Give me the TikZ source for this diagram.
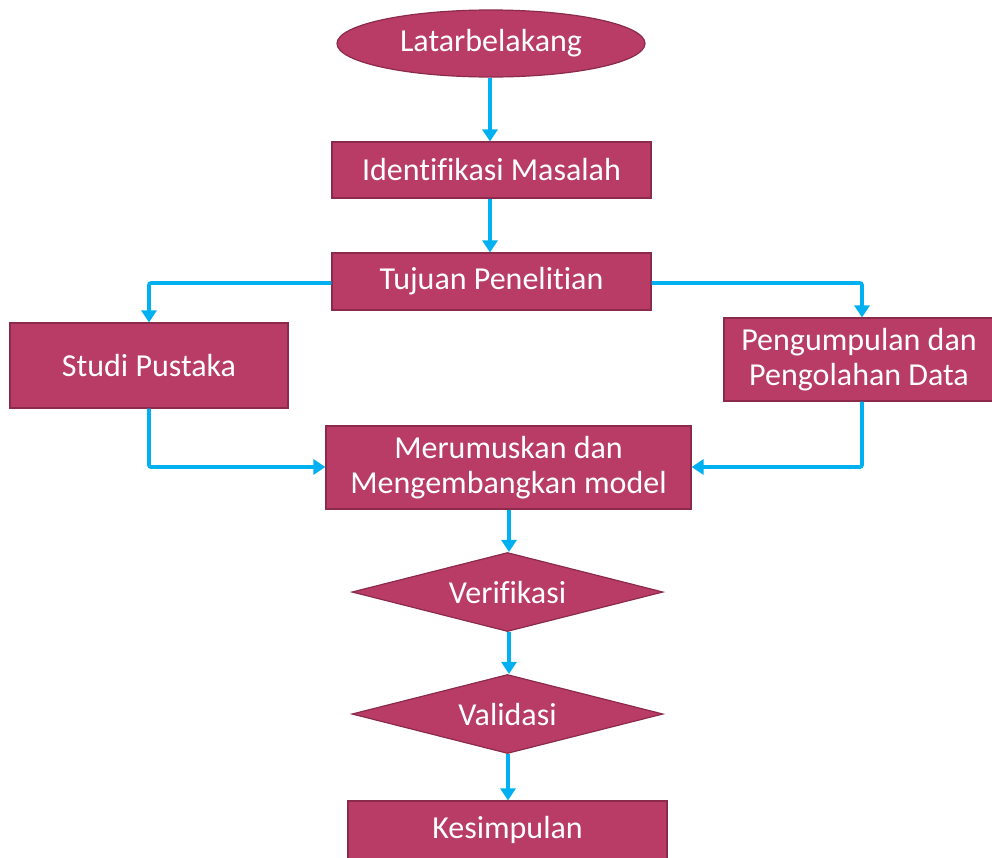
\documentclass[tikz,border=0pt]{standalone}
\usepackage{fontspec}
\setmainfont{Carlito}[Ligatures=NoCommon]
\usetikzlibrary{shapes.geometric,arrows.meta}
\definecolor{boxfill}{HTML}{B83C66}
\definecolor{boxline}{HTML}{8C2A4C}
\definecolor{flow}{HTML}{00B0F0}
\begin{document}
\begin{tikzpicture}[x=1pt,y=-1pt,
  base/.style={fill=boxfill,draw=boxline,line width=1.2pt,text=white,
    font=\fontsize{32}{35}\selectfont,inner sep=0pt,align=center},
  stepbox/.style={base,rectangle,minimum width=#1,minimum height=56pt},
  oval/.style={base,ellipse,minimum width=308pt,minimum height=67pt},
  decision/.style={base,diamond,aspect=3.9,minimum width=311pt,minimum height=79pt},
  link/.style={draw=flow,line width=3.6pt,-{Triangle[length=12pt,width=15pt]}}]
\useasboundingbox (0,0) rectangle (992,857);
\node[oval] (lat) at (491,43.5) {Latarbelakang};
\node[stepbox=319pt] (idm) at (491.5,170) {Identifikasi Masalah};
\node[stepbox=319pt,minimum height=57pt] (tuj) at (491.5,281.5) {Tujuan Penelitian};
\node[stepbox=278pt,minimum height=85pt] (stu) at (149,365.5) {Studi Pustaka};
\node[stepbox=270pt,minimum height=83pt] (pen) at (859,359.5) {Pengumpulan dan\\Pengolahan Data};
\node[stepbox=365pt,minimum height=83pt] (mer) at (508.5,467.5) {Merumuskan dan\\Mengembangkan model};
\node[decision] (ver) at (507.5,592) {Verifikasi};
\node[decision] (val) at (507.5,714) {Validasi};
\node[stepbox=319pt,minimum height=58pt] (kes) at (507.5,830) {Kesimpulan};
\draw[link] (lat.south -| 490,0) -- (idm.north -| 490,0);
\draw[link] (idm.south -| 490,0) -- (tuj.north -| 490,0);
\draw[link,rounded corners=2pt] (tuj.west |- 0,283) -| (stu.north);
\draw[link,rounded corners=2pt] (tuj.east |- 0,283) -| (pen.north -| 862,0);
\draw[link,rounded corners=2pt] (stu.south) |- (mer.west |- 0,467);
\draw[link,rounded corners=2pt] (pen.south -| 862,0) |- (mer.east |- 0,467);
\draw[link] (mer.south -| 509,0) -- (ver.north -| 509,0);
\draw[link] (ver.south -| 509,0) -- (val.north -| 509,0);
\draw[link] (val.south -| 508,0) -- (kes.north -| 508,0);
\end{tikzpicture}
\end{document}
